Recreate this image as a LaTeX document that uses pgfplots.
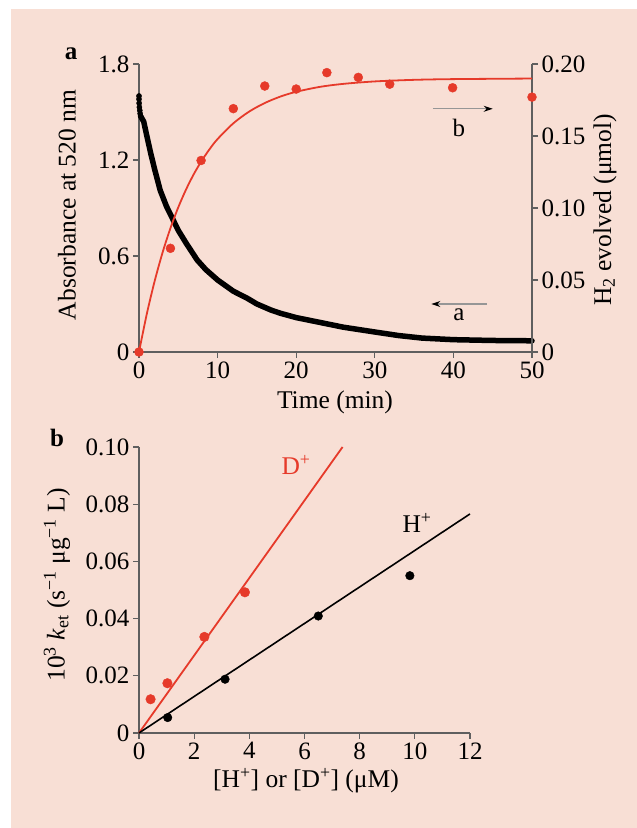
\documentclass[border=0pt]{standalone}
\usepackage{pgfplots}
\pgfplotsset{compat=1.18}
\usepackage{fontspec}
\setmainfont{Liberation Serif}
\usetikzlibrary{arrows.meta}
\definecolor{bgpink}{RGB}{248,223,213}
\definecolor{myred}{RGB}{230,58,42}
\definecolor{axgray}{RGB}{95,95,95}
\definecolor{arrgray}{RGB}{150,150,150}
\newcommand{\chartfont}{\fontsize{25}{30}\selectfont}
\newcommand{\labfont}{\fontsize{25.5}{30}\selectfont}
\pgfplotsset{myax/.style={scale only axis, clip=false,
  axis line style={axgray, line width=1.3pt},
  major tick style={axgray, line width=1.3pt},
  tick align=outside, major tick length=6pt,
  tick label style={font=\chartfont, text=black},
  /pgf/number format/assume math mode=true}}
\begin{document}
\begin{tikzpicture}[x=1pt,y=1pt]
\fill[white] (0,0) rectangle (637,828);
\fill[bgpink] (11,0) rectangle (637,819);
% ---------- panel a, left axis ----------
\begin{axis}[myax, at={(139pt,476pt)}, anchor=south west, width=393pt, height=288pt,
  xmin=0, xmax=50, ymin=0, ymax=1.8,
  axis x line*=bottom, axis y line*=left,
  xtick={0,10,20,30,40,50}, xticklabels={0,10,20,30,40,50},
  ytick={0,0.6,1.2,1.8}, yticklabels={0,0.6,1.2,1.8}]
\addplot[black, line width=5.5pt, line cap=round, line join=round] coordinates {
(0.25,1.47) (0.6,1.44) (1.0,1.35) (1.5,1.24) (2.0,1.14)
(2.7,1.01) (3.5,0.91) (4.3,0.83) (5,0.76) (6,0.68) (7.4,0.575) (8.5,0.515)
(10,0.45) (12,0.38) (13.8,0.335) (15,0.30) (16.8,0.262) (18,0.242) (20,0.215)
(23,0.185) (26,0.155) (30,0.125) (33,0.103) (36,0.087) (40,0.077) (45,0.072) (50,0.070)};
\addplot[only marks, mark=*, mark size=2.6pt, black] coordinates {
(0,1.60) (0,1.58) (0.02,1.555) (0.05,1.53) (0.1,1.51) (0.15,1.49) (0.2,1.475)};
\draw[arrgray, line width=1.2pt, -{Stealth[color=black, length=9pt, width=6pt]}]
  (axis cs:37.4,1.52) -- (axis cs:45,1.52);
\node[font=\chartfont] at (axis cs:40.7,1.40) {b};
\draw[arrgray, line width=1.2pt, -{Stealth[color=black, length=9pt, width=6pt]}]
  (axis cs:44.3,0.30) -- (axis cs:37.2,0.30);
\node[font=\chartfont] at (axis cs:40.7,0.23) {a};
\end{axis}
% ---------- panel a, right axis ----------
\begin{axis}[myax, at={(139pt,476pt)}, anchor=south west, width=393pt, height=288pt,
  xmin=0, xmax=50, ymin=0, ymax=0.2,
  axis x line=none, axis y line*=right,
  ytick={0,0.05,0.10,0.15,0.20}, yticklabels={0,0.05,0.10,0.15,0.20}]
\addplot[myred, line width=1.8pt, smooth] coordinates {
(0,0) (1,0.0266) (2,0.0494) (3,0.0691) (4,0.0860) (5,0.1005) (6,0.1130)
(7,0.1238) (8,0.1330) (9,0.1410) (10,0.1479) (12,0.1588) (14,0.1669)
(16,0.1729) (18,0.1774) (20,0.1807) (23,0.1841) (26,0.1862) (30,0.1879)
(35,0.1890) (40,0.1895) (50,0.1899)};
\addplot[only marks, mark=*, mark size=4.5pt, myred, mark options={draw=none, fill=myred}] coordinates {
(0,0) (4.0,0.072) (7.9,0.133) (12.0,0.169) (16.0,0.1847) (20.0,0.1826)
(23.9,0.194) (27.9,0.1907) (31.9,0.186) (39.9,0.1835) (50,0.177)};
\end{axis}
% ---------- panel b ----------
\begin{axis}[myax, at={(139pt,95pt)}, anchor=south west, width=331pt, height=286pt,
  xmin=0, xmax=12, ymin=0, ymax=0.1,
  axis x line*=bottom, axis y line*=left,
  xtick={0,2,4,6,8,10,12}, xticklabels={0,2,4,6,8,10,12},
  ytick={0,0.02,0.04,0.06,0.08,0.1}, yticklabels={0,0.02,0.04,0.06,0.08,0.10}]
\addplot[myred, line width=1.8pt] coordinates {(0,0) (7.38,0.1)};
\addplot[black, line width=1.6pt] coordinates {(0,0) (12,0.0766)};
\addplot[only marks, mark=*, mark size=4.8pt, myred, mark options={draw=none, fill=myred}] coordinates {
(0.42,0.0118) (1.03,0.0174) (2.37,0.0336) (3.84,0.0492)};
\addplot[only marks, mark=*, mark size=4.3pt, black] coordinates {
(1.04,0.0054) (3.12,0.0188) (6.5,0.0409) (9.82,0.055)};
\end{axis}
% ---------- labels ----------
\node[font=\chartfont\bfseries] at (71,774) {a};
\node[font=\labfont, rotate=90] at (67,623) {Absorbance at 520 nm};
\node[font=\labfont, rotate=90] at (605,618) {H\textsubscript{2} evolved (μmol)};
\node[font=\labfont] at (335,426) {Time (min)};
\node[font=\chartfont\bfseries] at (57,390) {b};
\node[font=\labfont, rotate=90] at (57,243) {10\textsuperscript{3} \textit{k}\textsubscript{et} (s\textsuperscript{−1} μg\textsuperscript{−1} L)};
\node[font=\labfont] at (306,47) {[H\textsuperscript{+}] or [D\textsuperscript{+}] (μM)};
\node[font=\labfont, text=myred] at (296,363) {D\textsuperscript{+}};
\node[font=\labfont] at (417,305) {H\textsuperscript{+}};
\pgfresetboundingbox
\path[use as bounding box] (0,0) rectangle (637,828);
\end{tikzpicture}
\end{document}
